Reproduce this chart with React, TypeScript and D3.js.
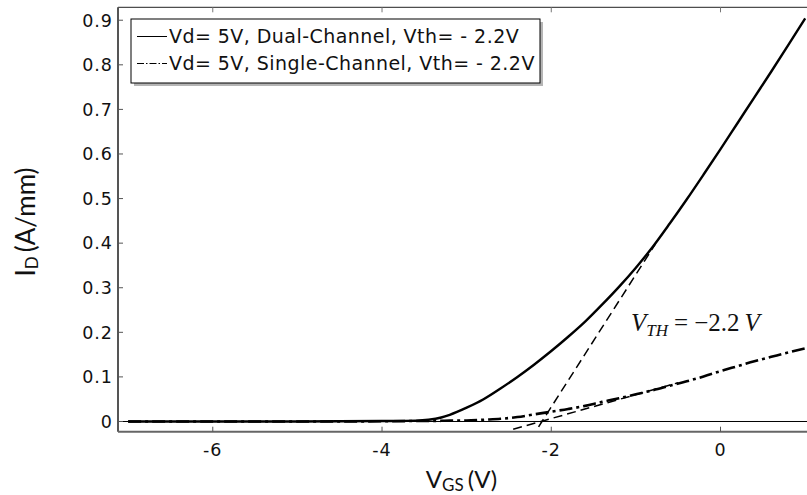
import React, { useEffect } from 'react';
import * as d3 from 'd3';

// gate voltage (V) for both transfer curves
const vgs = [-7, -6, -5, -4, -3.6, -3.45, -3.3, -3.2, -3.0, -2.8, -2.6, -2.4, -2.2, -2.0, -1.8, -1.6, -1.4, -1.2, -1.0, -0.8, -0.6, -0.4, -0.2, 0, 0.2, 0.4, 0.6, 0.8, 1.0];
// drain current (A/mm), dual channel
const dualId = [0, 0, 0, 0.001, 0.002, 0.004, 0.009, 0.015, 0.031, 0.05, 0.074, 0.1, 0.128, 0.158, 0.19, 0.224, 0.262, 0.302, 0.345, 0.392, 0.444, 0.498, 0.554, 0.611, 0.669, 0.727, 0.785, 0.844, 0.904];
// drain current (A/mm), single channel
const singleId = [0, 0, 0, 0.0005, 0.001, 0.001, 0.0015, 0.002, 0.002, 0.004, 0.006, 0.01, 0.016, 0.022, 0.028, 0.035, 0.044, 0.052, 0.061, 0.07, 0.08, 0.09, 0.101, 0.113, 0.124, 0.135, 0.145, 0.155, 0.164];

// linear-extrapolation lines used to read Vth
const tangentDual: [number, number][] = [[-2.15, -0.012], [-0.77, 0.398]];
const tangentSingle: [number, number][] = [[-2.45, -0.0175], [-0.5, 0.087]];

const xTicks = [-6, -4, -2, 0];
const yTicks = [0, 0.1, 0.2, 0.3, 0.4, 0.5, 0.6, 0.7, 0.8, 0.9];
const legendLabels = ['Vd= 5V, Dual-Channel, Vth= - 2.2V', 'Vd= 5V, Single-Channel, Vth= - 2.2V'];

const width = 807;
const height = 495;
const plot = { left: 118, right: 807, top: 7.3, bottom: 431.7 };

const App = () => {
  useEffect(() => {
    document.body.style.margin = '0';
  }, []);

  const x = d3.scaleLinear().domain([-7.12, 1.022]).range([plot.left, plot.right]);
  const y = d3.scaleLinear().domain([-0.0229, 0.929]).range([plot.bottom, plot.top]);

  const line = d3.line<number>()
    .x((d, i) => x(vgs[i]))
    .y(d => y(d))
    .curve(d3.curveMonotoneX);
  const straight = d3.line<[number, number]>()
    .x(d => x(d[0]))
    .y(d => y(d[1]));

  const tickFont = { fontFamily: 'DejaVu Sans', fontSize: 17.5, letterSpacing: 1, fill: '#111' };

  return (
    <svg width={width} height={height} style={{ display: 'block', background: '#fff' }}>
      {/* zero line */}
      <line x1={plot.left} x2={plot.right} y1={y(0)} y2={y(0)} stroke="#000" strokeWidth={1} />

      {/* tangent lines */}
      <path d={straight(tangentDual) ?? ''} fill="none" stroke="#000" strokeWidth={1.5} strokeDasharray="9,5" />
      <path d={straight(tangentSingle) ?? ''} fill="none" stroke="#000" strokeWidth={1.5} strokeDasharray="9,5" />

      {/* curves */}
      <path d={line(singleId) ?? ''} fill="none" stroke="#000" strokeWidth={2.6} strokeDasharray="13,4,3,4" />
      <path d={line(dualId) ?? ''} fill="none" stroke="#000" strokeWidth={2.4} />

      {/* frame */}
      <line x1={plot.left} x2={plot.right} y1={plot.top} y2={plot.top} stroke="#222" strokeWidth={1} />
      <line x1={plot.left} x2={plot.left} y1={plot.top} y2={plot.bottom} stroke="#555" strokeWidth={2} />
      <line x1={plot.left} x2={plot.right} y1={plot.bottom} y2={plot.bottom} stroke="#666" strokeWidth={2} />

      {/* y ticks */}
      {yTicks.map(t => (
        <g key={t}>
          <line x1={plot.left} x2={plot.left + 5} y1={y(t)} y2={y(t)} stroke="#555" strokeWidth={1} />
          <text x={plot.left - 5} y={y(t)} dy="0.36em" textAnchor="end" style={tickFont}>{t === 0 ? '0' : t.toFixed(1)}</text>
        </g>
      ))}

      {/* x ticks (bottom and top) */}
      {xTicks.map(t => (
        <g key={t}>
          <line x1={x(t)} x2={x(t)} y1={plot.bottom} y2={plot.bottom - 5} stroke="#555" strokeWidth={1} />
          <line x1={x(t)} x2={x(t)} y1={plot.top} y2={plot.top + 5} stroke="#777" strokeWidth={1} />
          <text x={x(t)} y={456} textAnchor="middle" style={tickFont}>{String(t)}</text>
        </g>
      ))}

      {/* legend */}
      <rect x={134} y={22} width={409} height={64} fill="#b5b5b5" />
      <rect x={131} y={19} width={409} height={64} fill="#fff" stroke="#000" strokeWidth={1} />
      {legendLabels.map((label, i) => (
        <g key={label} transform={`translate(0, ${36.5 + i * 27})`}>
          <line x1={137} x2={167} y1={0} y2={0} stroke="#000" strokeWidth={1}
            strokeDasharray={i === 1 ? '7,2,1.5,2' : undefined} />
          <text x={169} y={0} dy="0.36em" style={{ fontFamily: 'DejaVu Sans', fontSize: 19, letterSpacing: 0.45, fill: '#111' }}>
            {label}
          </text>
        </g>
      ))}

      {/* annotation */}
      <text x={631} y={331} style={{ fontFamily: 'Liberation Serif', fontSize: 25, fill: '#111' }}>
        <tspan fontStyle="italic">V</tspan>
        <tspan fontStyle="italic" fontSize={17} dy={5}>TH</tspan>
        <tspan dy={-5} dx={6}>=</tspan>
        <tspan dx={6}>−2.2</tspan>
        <tspan fontStyle="italic" dx={5}>V</tspan>
      </text>

      {/* axis titles */}
      <text x={461.5} y={488} textAnchor="middle" style={{ fontFamily: 'Lato', fontSize: 24, fill: '#111' }}>
        V<tspan fontSize={17} dy={3}>GS</tspan><tspan dy={-3} dx={4}>(V)</tspan>
      </text>
      <text transform="translate(35, 222) rotate(-90)" textAnchor="middle" style={{ fontFamily: 'Lato', fontSize: 26, fill: '#111' }}>
        I<tspan fontSize={17} dy={3}>D</tspan><tspan dy={-3} dx={4}>(A/mm)</tspan>
      </text>
    </svg>
  );
};

export default App;
